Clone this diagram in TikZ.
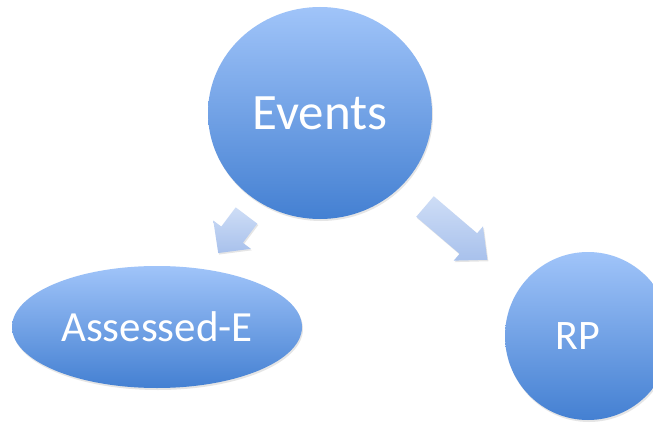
\documentclass[tikz,border=0pt]{standalone}
\usepackage{fontspec}
\setmainfont{Carlito}
\usetikzlibrary{shapes.geometric,shadows}
\definecolor{blobtop}{RGB}{160,196,249}
\definecolor{blobbot}{RGB}{68,128,210}
\definecolor{arrtop}{RGB}{206,221,246}
\definecolor{arrbot}{RGB}{168,193,236}
\tikzset{
  blob/.style={ellipse, inner sep=0pt, top color=blobtop, bottom color=blobbot,
    draw=none, text=white,
    drop shadow={opacity=0.2, shadow xshift=1pt, shadow yshift=-2pt}},
  blockarr/.style={top color=arrtop, bottom color=arrbot, draw=none,
    drop shadow={opacity=0.2, shadow xshift=1pt, shadow yshift=-1.5pt}}
}
\newcommand\myblockarrow[7]{% x y angle L hl w hw
  \begin{scope}[shift={(#1,#2)}, rotate=#3]
    \path[blockarr] (0,-#6/2) -- (#4-#5,-#6/2) -- (#4-#5,-#7/2) -- (#4,0)
      -- (#4-#5,#7/2) -- (#4-#5,#6/2) -- (0,#6/2) -- cycle;
  \end{scope}}
\begin{document}
\begin{tikzpicture}[x=1pt,y=-1pt]
  \useasboundingbox (0,0) rectangle (653,425);
  \clip (0,0) rectangle (653,425);
  \fill[white] (0,0) rectangle (653,425);
  \node[blob, minimum width=224pt, minimum height=212pt,
    font=\fontsize{51}{60}\selectfont] (events) at (320,113) {\raisebox{-3pt}{Events}};
  \node[blob, minimum width=290pt, minimum height=122pt,
    font=\fontsize{43}{52}\selectfont] (assessed) at (157,327) {Assessed-E};
  \node[blob, minimum width=166pt, minimum height=168pt,
    font=\fontsize{42}{50}\selectfont] (rp) at (588,336) {RP\kern20pt};
  \myblockarrow{246.5}{215.5}{-127}{47}{23}{27}{47}
  \myblockarrow{425}{206.5}{-40.5}{82}{25}{27}{45}
\end{tikzpicture}
\end{document}
